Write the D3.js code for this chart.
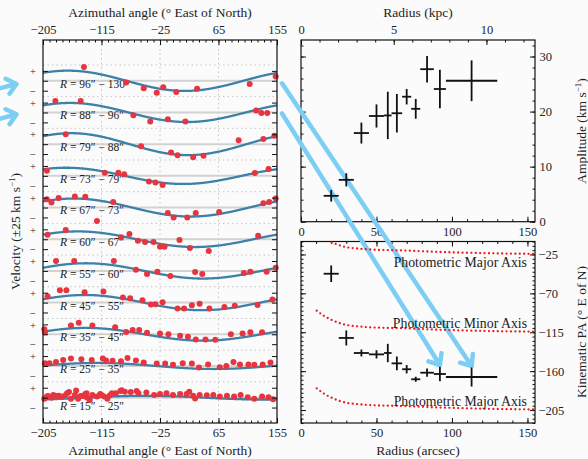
<!DOCTYPE html>
<html>
<head>
<meta charset="utf-8">
<style>
  body { margin: 0; background: #fbfbfb; }
  svg { display: block; font-family: "Liberation Serif", serif; }
  .tick text { font-size: 12.5px; fill: #222; }
  .tick line { stroke: #111; }
  .title { font-size: 13.5px; fill: #222; text-anchor: middle; }
  .rlab { font-size: 11.5px; fill: #222; }
  .phot { font-size: 13.8px; fill: #222; text-anchor: end; }
  .frame { fill: none; stroke: #111; stroke-width: 1.2; }
</style>
<script src="https://d3js.org/d3.v7.min.js"></script>
</head>
<body>
<svg width="588" height="459"></svg>
<script>
// radial bins (arcsec) and the fitted harmonic for each ring
var rInner = [15, 25, 35, 45, 55, 60, 67, 73, 79, 88, 96];
var rOuter = [25, 35, 45, 55, 60, 67, 73, 79, 88, 96, 130];
var amplitude = [4.7, 7.6, 16.1, 19.2, 19.3, 19.7, 22.7, 20.5, 27.7, 24.1, 25.6];
var ampErr = [1.05, 1.2, 1.9, 2.1, 4.3, 3.5, 1.4, 1.8, 2.4, 3.5, 3.7];
var kinPA = [-47.3, -121.6, -139, -140.6, -139, -151, -157.8, -169.4, -161.8, -163.3, -166.8];
var paErr = [9.6, 8.7, 4, 4.8, 10.6, 8, 4.8, 2.9, 4.8, 8.3, 11];

// photometric major axis PA vs radius
var photR = [10.4, 15, 19, 24, 30, 37, 46, 68, 90, 112, 134, 155];
var photPA = [0, -5.8, -9.7, -13.5, -16.6, -18.1, -19.3, -20.4, -22, -23.1, -23.9, -24.3];

// velocity residuals per ring: [azimuth, km/s]
var ring0 = [[-203,-3],[-199,3],[-197,4],[-192,0],[-189,7],[-184,4],[-181,5],[-176,3],[-170,7],[-168,11],[-165,14],[-162,-3],[-156,7],[-154,18],[-151,-3],[-147,4],[-143,4],[-140,9],[-138,11],[-137,0],[-133,-6],[-129,7],[-122,3],[-117,9],[-115,7],[-111,3],[-106,-3],[-102,6],[-99,11],[-93,11],[-86,17],[-84,19],[-79,15],[-70,14],[-61,17],[-58,11],[-46,13],[-34,7],[-25,9],[-15,11],[-5,7],[6,9],[16,9],[20,15],[26,5],[29,-2],[36,7],[47,6],[57,7],[67,3],[78,5],[89,3],[99,7],[110,1],[120,-3],[132,3],[142,1],[149,-4]];
var ring1 = [[-202,7],[-195,7],[-185,10],[-174,15],[-162,19],[-146,17],[-130,15],[-113,19],[-108,14],[-98,13],[-85,12],[-75,20],[-62,14],[-50,9],[-30,6],[-17,6],[-5,3],[10,7],[24,6],[35,-4],[49,4],[67,-3],[77,0],[88,10],[98,4],[111,4],[120,3],[133,4],[145,9]];
var ring2 = [[-203,13],[-202,5],[-162,22],[-150,29],[-129,22],[-94,18],[-77,6],[-67,11],[-57,11],[-45,4],[-25,2],[-12,0],[6,-4],[18,-6],[30,-13],[45,-13],[60,-14],[84,0],[102,2],[114,5],[132,5]];
var ring3 = [[-198,16],[-179,31],[-169,31],[-141,26],[-112,28],[-82,13],[-71,11],[-52,6],[-39,-5],[-32,-4],[-21,1],[2,-15],[12,-15],[24,-7],[36,-3],[51,-15],[74,-11],[90,-8],[125,-6],[148,8]];
var ring4 = [[-185,25],[-157,25],[-96,25],[-62,3],[-45,-8],[-29,-2],[-9,-13],[29,-3],[40,-8],[104,-5],[114,-2],[139,-2],[153,8]];
var ring5 = [[-198,11],[-170,23],[-85,5],[-72,13],[-59,-4],[-48,-7],[-35,-7],[-25,-19],[-18,-19],[5,-2],[21,-22],[50,-30],[126,9]];
var ring6 = [[-199,21],[-192,13],[-181,24],[-156,28],[-140,27],[-122,-34],[-97,14],[-13,-14],[-4,-25],[17,-25],[30,-14],[66,-11],[134,11],[143,14],[153,23]];
var ring7 = [[-199,13],[-110,8],[-89,8],[-80,4],[-42,-14],[-32,-17],[-21,-23],[121,7],[142,17]];
var ring8 = [[-170,25],[-54,-5],[-8,-21],[2,-28],[26,-33],[42,-29],[96,10],[134,13],[151,21]];
var ring9 = [[-186,29],[-147,29],[-66,-7],[-40,-23],[-13,-17],[14,-23],[123,5],[131,-1],[140,-1]];
var ring10 = [[-142,35],[-77,-4],[-50,-19],[-30,-30],[-20,-16],[0,-28],[32,-20],[113,-8],[153,11]];
var rings = [ring0, ring1, ring2, ring3, ring4, ring5, ring6, ring7, ring8, ring9, ring10];

var azTicks = [-205, -115, -25, 65, 155];
var rTicks = [0, 50, 100, 150];
var kpcTicks = [0, 5, 10];
var ampTicks = [0, 10, 20, 30];
var paTicks = [-205, -160, -115, -70, -25];
var kpcPerArcsec = 0.0814;
var step = 80; // vertical offset between rings, km/s

var svg = d3.select("svg");
var blue = "#3d80a8", red = "#e63540", sky = "#7ccef4", rlineCol = "#f01818";

var xAz = d3.scaleLinear().domain([-205, 155]).range([43, 277]);
var yV = d3.scaleLinear().domain([-64, 903]).range([423, 40]);
var xR = d3.scaleLinear().domain([0, 155]).range([301, 535]);
var xKpc = d3.scaleLinear().domain([0, 155 * kpcPerArcsec]).range([301, 535]);
var yAmp = d3.scaleLinear().domain([0, 33]).range([221.7, 40]);
var yPA = d3.scaleLinear().domain([-220, -10]).range([423, 241.5]);

function axis(fn, scale, pos, major, minor, fmt, pad) {
  var g = svg.append("g").attr("transform", pos);
  g.call(fn(scale).tickValues(major).tickSize(-5).tickPadding(pad).tickFormat(fmt));
  g.append("g").call(fn(scale).tickValues(minor).tickSize(-2.5).tickFormat(""));
  g.selectAll(".domain").remove();
  g.attr("font-family", null).attr("font-size", null);
  g.selectAll("g").attr("font-family", null).attr("font-size", null);
  return g;
}
var noLab = function() { return ""; };
var fmt = d3.format("d");

// ---------- left panel: velocity vs azimuth ----------
var left = svg.append("g");
var k = d3.range(rings.length);

left.selectAll(".vgrid").data(azTicks.slice(1, -1)).join("line")
  .attr("x1", d => xAz(d)).attr("x2", d => xAz(d))
  .attr("y1", yV.range()[1]).attr("y2", yV.range()[0])
  .attr("stroke", "#c4c4c4").attr("stroke-dasharray", "1.5,3");
left.selectAll(".hgrid").data(k).join("line")
  .attr("x1", xAz(-205)).attr("x2", xAz(155))
  .attr("y1", d => yV(d * step + 40)).attr("y2", d => yV(d * step + 40))
  .attr("stroke", "#c4c4c4").attr("stroke-dasharray", "1.5,3");
left.selectAll(".zero").data(k).join("line")
  .attr("x1", xAz(-205)).attr("x2", xAz(155))
  .attr("y1", d => yV(d * step)).attr("y2", d => yV(d * step))
  .attr("stroke", "#d2d2d2").attr("stroke-width", 2);

var rl = left.selectAll(".rlab").data(k).join("text").attr("class", "rlab")
  .attr("x", 60).attr("y", d => yV(d * step - (d === 0 ? 31 : 17.5)));
rl.append("tspan").attr("font-style", "italic").text("R");
rl.append("tspan").text(d => " = " + rInner[d] + "\u2033 \u2212 " + rOuter[d] + "\u2033");

var angles = d3.range(-205, 155.5, 1);
left.selectAll(".curve").data(k).join("path")
  .attr("fill", "none").attr("stroke", blue).attr("stroke-width", 2.3)
  .attr("d", i => d3.line()
    .x(a => xAz(a))
    .y(a => yV(i * step + amplitude[i] * Math.cos((a - kinPA[i]) * Math.PI / 180)))(angles));

rings.forEach(function(ring, i) {
  left.selectAll(".dot" + i).data(ring).join("circle")
    .attr("cx", d => xAz(d[0])).attr("cy", d => yV(i * step + d[1]))
    .attr("r", 3).attr("fill", red);
});

var vTicks = [];
k.forEach(function(i) { vTicks.push(i * step - 25, i * step, i * step + 25); });
var pm = function(v) { var r = v - step * Math.round(v / step); return r > 0 ? "+" : r < 0 ? "\u2212" : ""; };
axis(d3.axisTop, xAz, "translate(0,40)", azTicks, d3.range(-205, 156, 10), fmt, 6);
axis(d3.axisBottom, xAz, "translate(0,423)", azTicks, d3.range(-205, 156, 10), fmt, 5.6);
var yl = axis(d3.axisLeft, yV, "translate(43,0)", vTicks, [], pm, 6);
yl.selectAll(".tick text").attr("x", -10).attr("text-anchor", "middle").style("font-size", "10.5px")
  .attr("dy", "0.35em");
axis(d3.axisRight, yV, "translate(277,0)", vTicks, [], noLab, 4);
svg.append("rect").attr("class", "frame")
  .attr("x", 43).attr("y", 40).attr("width", 234).attr("height", 383);

svg.append("text").attr("class", "title").attr("x", 160).attr("y", 17).text("Azimuthal angle (\u00b0 East of North)");
svg.append("text").attr("class", "title").attr("x", 160).attr("y", 454.5).text("Azimuthal angle (\u00b0 East of North)");
var vt = svg.append("text").attr("class", "title").attr("transform", "translate(19.5,231.5) rotate(-90)");
vt.append("tspan").text("Velocity (\u00b125 km s");
vt.append("tspan").attr("dy", -4.5).style("font-size", "9px").text("\u22121");
vt.append("tspan").attr("dy", 4.5).text(")");

// ---------- right panels: axes ----------
axis(d3.axisTop, xKpc, "translate(0,40)", kpcTicks, d3.range(0, 13, 1), fmt, 6);
axis(d3.axisBottom, xR, "translate(0,221.7)", rTicks, d3.range(0, 156, 10), fmt, 5.9);
axis(d3.axisLeft, yAmp, "translate(301,0)", ampTicks, d3.range(0, 34, 2), noLab, 4);
axis(d3.axisRight, yAmp, "translate(535,0)", ampTicks, d3.range(0, 34, 2), fmt, 4.5);
axis(d3.axisTop, xR, "translate(0,241.5)", rTicks, d3.range(0, 156, 10), noLab, 4);
axis(d3.axisBottom, xR, "translate(0,423)", rTicks, d3.range(0, 156, 10), fmt, 5.6);
axis(d3.axisLeft, yPA, "translate(301,0)", paTicks, d3.range(-220, -9, 5), noLab, 4);
axis(d3.axisRight, yPA, "translate(535,0)", paTicks, d3.range(-220, -9, 5), fmt, 3.5);
svg.append("rect").attr("class", "frame")
  .attr("x", 301).attr("y", 40).attr("width", 234).attr("height", 181.7);
svg.append("rect").attr("class", "frame")
  .attr("x", 301).attr("y", 241.5).attr("width", 234).attr("height", 181.5);

svg.append("text").attr("class", "title").attr("x", 418).attr("y", 17).text("Radius (kpc)");
svg.append("text").attr("class", "title").attr("x", 418).attr("y", 454.5).text("Radius (arcsec)");
var at = svg.append("text").attr("class", "title").attr("transform", "translate(585.5,131) rotate(-90)");
at.append("tspan").text("Amplitude (km s");
at.append("tspan").attr("dy", -4.5).style("font-size", "9px").text("\u22121");
at.append("tspan").attr("dy", 4.5).text(")");
svg.append("text").attr("class", "title").attr("transform", "translate(585.5,332) rotate(-90)")
  .text("Kinematic PA (\u00b0 E of N)");

// ---------- arrows ----------
function arrow(x1, y1, x2, y2) {
  var a = Math.atan2(y1 - y2, x1 - x2), len = 12, sp = 40 * Math.PI / 180;
  var p = "M" + x1 + "," + y1 + "L" + x2 + "," + y2 +
    "M" + (x2 + len * Math.cos(a + sp)) + "," + (y2 + len * Math.sin(a + sp)) + "L" + x2 + "," + y2 +
    "L" + (x2 + len * Math.cos(a - sp)) + "," + (y2 + len * Math.sin(a - sp));
  svg.append("path").attr("d", p).attr("fill", "none").attr("stroke", sky)
    .attr("stroke-width", 4.5).attr("stroke-linecap", "round").attr("stroke-linejoin", "round");
}
arrow(xAz(155) + 5, yV(10 * step) + 2.5, xR((rInner[10] + rOuter[10]) / 2), yPA(kinPA[10]) - 11);
arrow(xAz(155) + 5, yV(9 * step) + 1, xR((rInner[9] + rOuter[9]) / 2), yPA(kinPA[9]) - 9);
arrow(-14, yV(10 * step) + 11, 16.5, yV(10 * step) + 3.2);
arrow(-14, yV(9 * step) + 10, 16.5, yV(9 * step) + 1.8);

// photometric axes (red dotted), drawn over the arrows
svg.append("clipPath").attr("id", "paclip").append("rect")
  .attr("x", 301).attr("y", 241.5).attr("width", 234).attr("height", 181.5);
var phot = svg.append("g").attr("clip-path", "url(#paclip)");
[0, -90, -180].forEach(function(off) {
  phot.append("path")
    .attr("fill", "none").attr("stroke", rlineCol).attr("stroke-width", 2.3)
    .attr("stroke-linecap", "round").attr("stroke-dasharray", "0,4.4")
    .attr("d", d3.line().curve(d3.curveMonotoneX)
      .x((d, i) => xR(photR[i])).y((d, i) => yPA(photPA[i] + off))(photR));
});
svg.append("text").attr("class", "phot").attr("x", 527).attr("y", yPA(-40)).text("Photometric Major Axis");
svg.append("text").attr("class", "phot").attr("x", 527).attr("y", yPA(-110)).text("Photometric Minor Axis");
svg.append("text").attr("class", "phot").attr("x", 527).attr("y", yPA(-200)).text("Photometric Major Axis");

// ---------- amplitude and kinematic PA crosses ----------
function crosses(yScale, vals, errs) {
  var g = svg.append("g").attr("stroke", "#111").attr("stroke-width", 1.8);
  g.selectAll(".h").data(k).join("line")
    .attr("x1", i => xR(rInner[i])).attr("x2", i => xR(rOuter[i]))
    .attr("y1", i => yScale(vals[i])).attr("y2", i => yScale(vals[i]));
  g.selectAll(".v").data(k).join("line")
    .attr("x1", i => xR((rInner[i] + rOuter[i]) / 2)).attr("x2", i => xR((rInner[i] + rOuter[i]) / 2))
    .attr("y1", i => yScale(vals[i] - errs[i])).attr("y2", i => yScale(vals[i] + errs[i]));
}
crosses(yAmp, amplitude, ampErr);
crosses(yPA, kinPA, paErr);
</script>
</body>
</html>
